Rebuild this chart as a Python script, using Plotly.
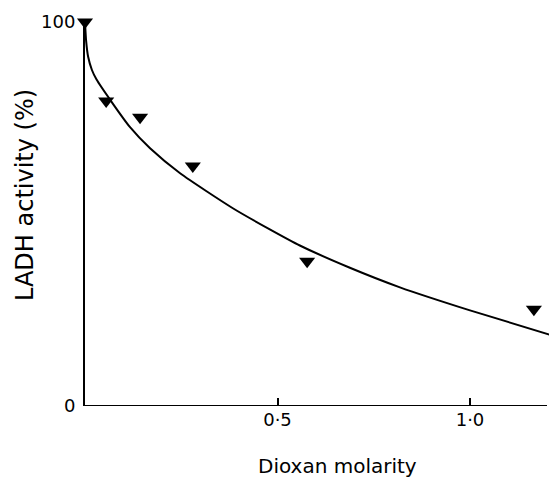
import plotly.graph_objects as go

dioxan_molarity = [0.0, 0.055, 0.143, 0.28, 0.577, 1.166]
ladh_activity = [100.0, 79.4, 75.2, 62.5, 37.7, 25.2]

# Fitted curve
curve_x = [0.0, 0.003, 0.008, 0.018, 0.03, 0.069, 0.117, 0.169, 0.247, 0.384, 0.48, 0.558, 0.688, 0.818, 1.0, 1.226]
curve_y = [100.0, 95.0, 91.0, 87.5, 85.0, 79.2, 72.6, 67.1, 60.6, 51.5, 46.0, 41.8, 36.0, 30.9, 24.9, 18.0]

x_tickvals = [0.5, 1.0]
x_ticktext = ["0\u00b75", "1\u00b70"]
y_tickvals = [0, 100]
y_ticktext = ["0", "100"]

FONT = "DejaVu Sans"

fig = go.Figure()
fig.add_trace(go.Scatter(x=curve_x, y=curve_y, mode="lines",
                         line=dict(color="black", width=2, shape="spline", smoothing=0.6),
                         cliponaxis=False, showlegend=False, hoverinfo="skip"))
fig.add_trace(go.Scatter(x=dioxan_molarity, y=ladh_activity, mode="markers",
                         marker=dict(symbol="triangle-down", size=14, color="black"),
                         cliponaxis=False, showlegend=False))

# The page body has an 8px margin, so the figure is sized to fit the window.
BODY = 8
W, H = 557 - BODY, 478 - BODY
L, R, T = 85 - BODY, 0, 22 - BODY
B = H - T - 384

fig.update_layout(
    width=W, height=H,
    margin=dict(l=L, r=R, t=T, b=B, pad=0),
    paper_bgcolor="white", plot_bgcolor="white",
    font=dict(family=FONT, color="black", size=17),
    xaxis=dict(range=[0, 1.226], tickvals=x_tickvals, ticktext=x_ticktext,
               ticks="inside", ticklen=8, tickwidth=2, tickcolor="black",
               showline=False, showgrid=False, zeroline=False,
               ticklabelstandoff=1, tickfont=dict(size=18)),
    yaxis=dict(range=[0, 100], tickvals=y_tickvals, ticktext=y_ticktext,
               ticks="", showline=True, linecolor="black", linewidth=2,
               showgrid=False, zeroline=False, ticklabelstandoff=4,
               tickfont=dict(size=18)),
    shapes=[dict(type="line", xref="x", yref="y", x0=0, x1=1.2, y0=0, y1=0,
                 line=dict(color="black", width=2))],
    annotations=[
        dict(text="Dioxan molarity", xref="paper", yref="paper",
             x=(337 - 85) / 472, y=(406 - 466) / 384, showarrow=False,
             xanchor="center", yanchor="middle", font=dict(size=20, family=FONT)),
        dict(text="LADH activity (%)", xref="paper", yref="paper",
             x=(25 - 85) / 472, y=(406 - 195) / 384, showarrow=False,
             textangle=-90, xanchor="center", yanchor="middle",
             font=dict(size=24, family=FONT)),
    ],
)

fig.write_html("out.html")
